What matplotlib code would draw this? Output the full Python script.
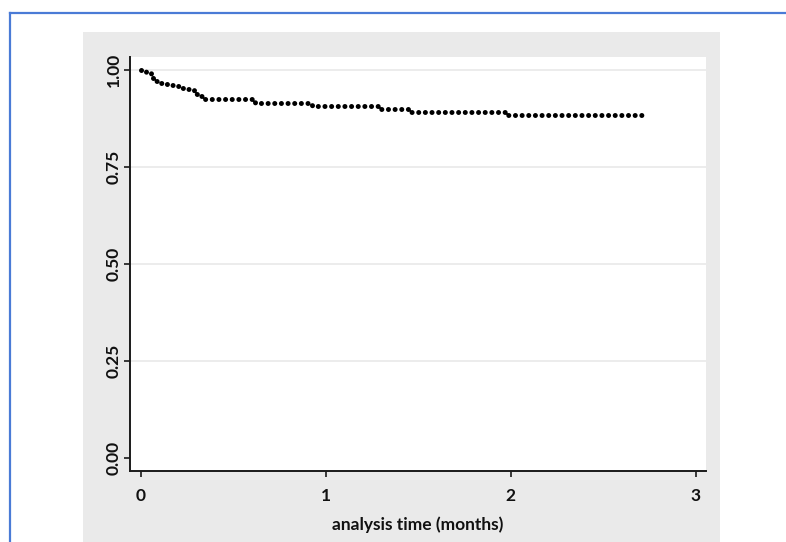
import matplotlib.pyplot as plt
from matplotlib.patches import Rectangle
from matplotlib.lines import Line2D

# Kaplan-Meier survival estimate
times = [0.0, 0.029, 0.056, 0.066, 0.094, 0.12, 0.148, 0.175, 0.207, 0.234,
         0.261, 0.288, 0.315, 0.342, 0.617, 0.925, 1.294, 1.456, 1.986, 2.737]
surv = [1.000, 0.992, 0.986, 0.971, 0.967, 0.964, 0.961, 0.958, 0.954, 0.952,
        0.948, 0.939, 0.932, 0.924, 0.916, 0.907, 0.899, 0.892, 0.884, 0.884]

x_ticks = [0, 1, 2, 3]
y_ticks = [0.00, 0.25, 0.50, 0.75, 1.00]
x_label = 'analysis time (months)'

plt.rcParams['font.family'] = ['Lato', 'DejaVu Sans']

W, H = 786, 542
fig = plt.figure(figsize=(W / 100, H / 100), dpi=100)
fig.patch.set_facecolor('white')

# grey Stata graph region
fig.patches.append(Rectangle((83 / W, 0), (720 - 83) / W, (H - 32) / H,
                             transform=fig.transFigure, facecolor='#eaeaea',
                             edgecolor='none', zorder=-10))
# blue frame around the figure
blue = '#4a7bd6'
fig.lines.append(Line2D([9.5 / W, 9.5 / W], [0, 1 - 13 / H], transform=fig.transFigure,
                        color=blue, lw=1.6))
fig.lines.append(Line2D([9.5 / W, 1], [1 - 13 / H, 1 - 13 / H], transform=fig.transFigure,
                        color=blue, lw=1.6))

ax = fig.add_axes([130 / W, 1 - 471 / H, 576 / W, 414 / H])
ax.set_facecolor('white')

for yv in y_ticks[1:]:
    ax.axhline(yv, color='#ececec', lw=1.4, zorder=1)

ax.plot(times, surv, drawstyle='steps-post', color='black', lw=3.6,
        linestyle=(0, (0.01, 1.32)), dash_capstyle='round', zorder=3)

ax.set_xlim(-0.058, 3.056)
ax.set_ylim(-0.0335, 1.0335)
ax.set_xticks(x_ticks)
ax.set_xticklabels([str(v) for v in x_ticks])
ax.set_yticks(y_ticks)
ax.set_yticklabels(['%.2f' % v for v in y_ticks], rotation=90, va='center')

for s in ['top', 'right']:
    ax.spines[s].set_visible(False)
for s in ['left', 'bottom']:
    ax.spines[s].set_linewidth(1.4)
    ax.spines[s].set_color('#1a1a1a')

ax.tick_params(axis='both', length=4.5, width=1.2, color='#1a1a1a',
               labelsize=12.5, labelcolor='#111111')
ax.tick_params(axis='x', pad=8)
ax.tick_params(axis='y', pad=1.5)
for lab in ax.get_xticklabels() + ax.get_yticklabels():
    lab.set_fontweight('bold')

ax.set_xlabel(x_label, fontsize=12.5, fontweight='bold', color='#111111', labelpad=9)

fig.savefig('out.png', dpi=100)
